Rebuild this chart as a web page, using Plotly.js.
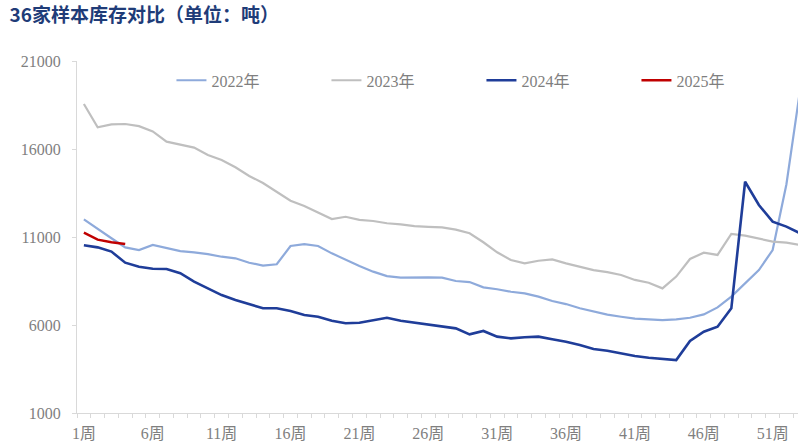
<!DOCTYPE html>
<html>
<head>
<meta charset="utf-8">
<script src="https://cdn.plot.ly/plotly-3.0.1.min.js"></script>
<style>
  html, body { margin: 0; padding: 0; background: #fff; }
  #chart { width: 798px; height: 446px; }
</style>
</head>
<body>
<div id="chart"></div>
<script>
// week numbers (the 53rd week sits just past the visible edge)
var weeks = [];
for (var i = 1; i <= 53; i++) weeks.push(i);

var tickWeeks = [1, 6, 11, 16, 21, 26, 31, 36, 41, 46, 51];
var tickLabels = tickWeeks.map(function (w) { return w + '周'; });

var inv2022 = [12000, 11490, 10930, 10410, 10260, 10545, 10360, 10200, 10130, 10030,
  9880, 9790, 9540, 9370, 9450, 10490, 10600, 10490, 10070, 9690,
  9350, 9030, 8780, 8690, 8710, 8710, 8690, 8500, 8440, 8140,
  8030, 7890, 7800, 7610, 7360, 7190, 6950, 6760, 6590, 6470,
  6360, 6320, 6280, 6320, 6410, 6600, 7000, 7610, 8370, 9120,
  10260, 14000, 19400];

var inv2023 = [18560, 17230, 17400, 17420, 17300, 17000, 16420, 16270, 16080, 15660,
  15380, 14960, 14470, 14070, 13580, 13060, 12760, 12400, 12020, 12150,
  11970, 11910, 11780, 11720, 11620, 11580, 11550, 11420, 11210, 10700,
  10130, 9690, 9500, 9650, 9730, 9500, 9310, 9120, 9000, 8840,
  8560, 8400, 8080, 8750, 9750, 10110, 9980, 11170, 11080, 10930,
  10740, 10680, 10550];

var inv2024 = [10530, 10410, 10170, 9540, 9310, 9200, 9180, 8940, 8460, 8090,
  7700, 7420, 7190, 6950, 6950, 6800, 6570, 6470, 6240, 6100,
  6130, 6280, 6410, 6240, 6130, 6050, 5940, 5810, 5470, 5660,
  5340, 5240, 5300, 5340, 5190, 5050, 4860, 4640, 4540, 4390,
  4240, 4140, 4070, 4010, 5090, 5620, 5900, 6950, 14140, 12820,
  11870, 11590, 11210];

var inv2025 = [11250, 10850, 10700, 10600];

var seriesNames = ['2022年', '2023年', '2024年', '2025年'];
var seriesColors = ['#8eaadb', '#bfbfbf', '#1f3d99', '#c00000'];
var seriesWidths = [2.2, 2.2, 2.6, 2.4];
var seriesValues = [inv2022, inv2023, inv2024, inv2025];

var data = seriesValues.map(function (vals, k) {
  return {
    x: weeks.slice(0, vals.length),
    y: vals,
    type: 'scatter',
    mode: 'lines',
    name: seriesNames[k],
    line: { color: seriesColors[k], width: seriesWidths[k] },
    hoverinfo: 'x+y'
  };
});

var layout = {
  width: 798,
  height: 446,
  margin: { l: 77, r: 0, t: 61, b: 33 },
  paper_bgcolor: '#ffffff',
  plot_bgcolor: '#ffffff',
  title: {
    text: '36家样本库存对比（单位：吨）',
    font: { family: 'Noto Sans CJK SC', size: 19, color: '#1f3c78', weight: 'bold' },
    x: 0.012, xref: 'container', xanchor: 'left',
    y: 0.965, yref: 'container', yanchor: 'middle'
  },
  showlegend: true,
  legend: {
    orientation: 'h',
    x: 0.131, xanchor: 'left',
    y: 0.945, yanchor: 'middle',
    bgcolor: 'rgba(0,0,0,0)',
    font: { family: 'Liberation Serif, Noto Sans CJK SC', size: 16, color: '#7f7f7f' },
    entrywidth: 110, entrywidthmode: 'pixels',
    traceorder: 'normal'
  },
  xaxis: {
    type: 'linear',
    range: [0.5, 52.84],
    showgrid: false,
    zeroline: false,
    showline: true,
    linecolor: '#d9d9d9',
    linewidth: 1,
    tickmode: 'array',
    tickvals: tickWeeks,
    ticktext: tickLabels,
    ticks: '',
    ticklabelstandoff: 6,
    minor: { tickmode: 'linear', tick0: 0.5, dtick: 1, ticks: 'outside', ticklen: 4, tickcolor: '#d9d9d9', showgrid: false },
    tickfont: { family: 'Liberation Serif, Noto Sans CJK SC', size: 16, color: '#7f7f7f' },
    fixedrange: true
  },
  yaxis: {
    range: [1000, 21000],
    tickmode: 'array',
    tickvals: [1000, 6000, 11000, 16000, 21000],
    ticktext: ['1000', '6000', '11000', '16000', '21000'],
    showgrid: false,
    zeroline: false,
    showline: true,
    linecolor: '#d9d9d9',
    linewidth: 1,
    ticks: 'outside',
    ticklen: 4,
    tickcolor: '#d9d9d9',
    ticklabelstandoff: 8,
    tickfont: { family: 'Liberation Serif', size: 16, color: '#7f7f7f' },
    fixedrange: true
  }
};

Plotly.newPlot('chart', data, layout, { displayModeBar: false, staticPlot: true });
</script>
</body>
</html>
